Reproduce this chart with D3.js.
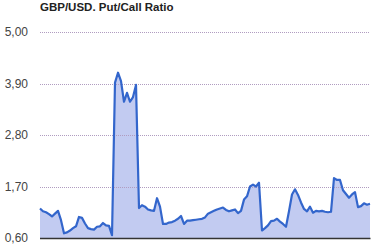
<!DOCTYPE html>
<html><head><meta charset="utf-8">
<script src="https://cdn.jsdelivr.net/npm/d3@7"></script>
<style>body{margin:0;background:#fff}svg{display:block}</style>
</head><body>
<script>
const title = "GBP/USD. Put/Call Ratio";
const tickValues = [0.6, 1.7, 2.8, 3.9, 5.0];
const tickLabels = ["0,60", "1,70", "2,80", "3,90", "5,00"];
const values = [
1.23,1.17,1.15,1.11,1.06,1.12,1.18,0.98,0.70,0.72,
0.76,0.81,0.85,1.05,1.03,0.91,0.81,0.79,0.78,0.84,
0.85,0.92,0.87,0.86,0.66,3.92,4.13,3.95,3.51,3.70,
3.51,3.61,3.87,1.24,1.30,1.27,1.21,1.19,1.18,1.45,
1.27,0.90,0.90,0.93,0.94,0.97,1.01,1.07,0.90,0.97,
0.97,0.98,0.99,1.00,1.01,1.04,1.12,1.15,1.18,1.21,
1.23,1.25,1.20,1.17,1.19,1.21,1.13,1.18,1.42,1.49,
1.70,1.74,1.70,1.78,0.76,0.81,0.87,0.96,0.97,1.01,
0.95,0.90,0.84,1.17,1.53,1.64,1.52,1.36,1.22,1.17,
1.27,1.14,1.18,1.17,1.18,1.16,1.15,1.16,1.88,1.84,
1.84,1.62,1.54,1.46,1.53,1.58,1.26,1.28,1.34,1.31,
1.33];

const W = 377, H = 251;
const svg = d3.select("body").append("svg").attr("width", W).attr("height", H);
const x = d3.scaleLinear().domain([0, values.length - 1]).range([40, 370]);
const y = d3.scaleLinear().domain([0.6, 5.0]).range([238, 32]);

svg.append("text").attr("x", 40).attr("y", 11)
  .attr("font-family", "Liberation Sans, Arial, sans-serif")
  .attr("font-size", 11.5).attr("font-weight", "bold").attr("fill", "#222")
  .text(title);

// area
const area = d3.area().x((d, i) => x(i)).y0(y(0.6)).y1(d => y(d));
svg.append("path").datum(values).attr("d", area).attr("fill", "#c2cbf1");

// gridlines
svg.append("g").selectAll("line").data(tickValues.slice(1)).join("line")
  .attr("x1", 40).attr("x2", 370)
  .attr("y1", d => Math.round(y(d)) + 0.5).attr("y2", d => Math.round(y(d)) + 0.5)
  .attr("stroke", "#b09cc0").attr("stroke-dasharray", "1,1").attr("stroke-width", 1);

// tick labels
svg.append("g").selectAll("text").data(tickValues).join("text")
  .attr("x", 28).attr("y", d => y(d) + 4)
  .attr("text-anchor", "end")
  .attr("font-family", "Liberation Sans, Arial, sans-serif")
  .attr("font-size", 12).attr("fill", "#444")
  .text((d, i) => tickLabels[i]);

// line
const line = d3.line().x((d, i) => x(i)).y(d => y(d));
svg.append("path").datum(values).attr("d", line)
  .attr("fill", "none").attr("stroke", "#3366cc").attr("stroke-width", 2.2)
  .attr("stroke-linejoin", "round");

// baseline
svg.append("line").attr("x1", 40).attr("x2", 370.5)
  .attr("y1", y(0.6) + 0.5).attr("y2", y(0.6) + 0.5)
  .attr("stroke", "#333").attr("stroke-width", 1.5);
</script>
</body></html>
